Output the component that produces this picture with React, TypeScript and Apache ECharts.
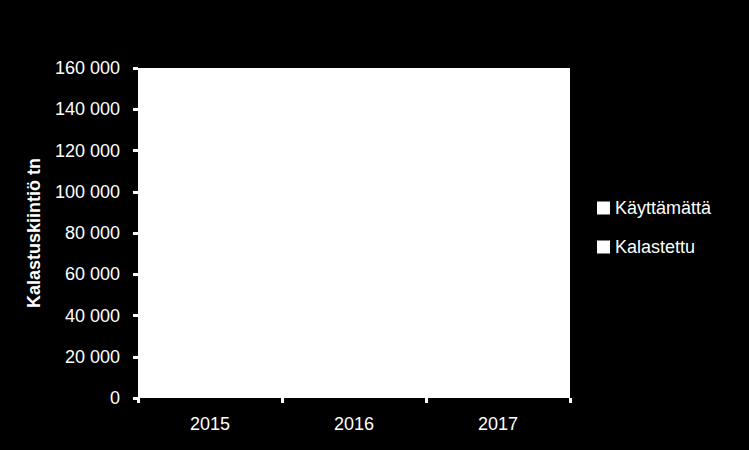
// Pinottu pylväskaavio kalastuskiintiön käytöstä vuosittain (kalastettu / käyttämättä).
// Pylväät ovat valkoisia valkoisella piirtoalueella, kuten alkuperäisessä kuvassa.
import { useEffect, useRef } from 'react'
import * as echarts from 'echarts'

const VUODET = ['2015', '2016', '2017']
const KALASTETTU = [128000, 124000, 118000]
const KAYTTAMATTA = [12000, 16000, 22000]
const Y_MAX = 160000
const Y_VALI = 20000

const FONTTI = '"Liberation Sans", Arial, sans-serif'

// välilyönti tuhaterottimena, kuten suomalaisessa Excelissä
const muotoile = (v: number) => String(v).replace(/\B(?=(\d{3})+(?!\d))/g, ' ')

export default function App() {
  const ref = useRef<HTMLDivElement>(null)

  useEffect(() => {
    document.body.style.margin = '0'
    document.body.style.background = '#000'
    if (!ref.current) return
    const kaavio = echarts.init(ref.current, undefined, { renderer: 'svg' })

    kaavio.setOption({
      animation: false,
      backgroundColor: '#000000',
      textStyle: { fontFamily: FONTTI },
      grid: {
        left: 138,
        right: 179,
        top: 68,
        bottom: 52,
        show: true,
        backgroundColor: '#ffffff',
        borderWidth: 0,
      },
      legend: {
        orient: 'vertical',
        left: 592,
        top: 193,
        itemWidth: 13,
        itemHeight: 13,
        itemGap: 19,
        icon: 'rect',
        data: ['Käyttämättä', 'Kalastettu'],
        textStyle: { color: '#ffffff', fontSize: 18, lineHeight: 20, fontFamily: FONTTI },
      },
      xAxis: {
        type: 'category',
        data: VUODET,
        axisLine: { show: false },
        axisTick: { show: true, length: 5, lineStyle: { color: '#ffffff', width: 3 } },
        axisLabel: { color: '#ffffff', fontSize: 18, margin: 17, fontFamily: FONTTI },
      },
      yAxis: {
        type: 'value',
        min: 0,
        max: Y_MAX,
        interval: Y_VALI,
        name: 'Kalastuskiintiö tn',
        nameLocation: 'middle',
        nameGap: 95,
        nameRotate: 90,
        nameTextStyle: { color: '#ffffff', fontSize: 18, fontWeight: 'bold', fontFamily: FONTTI },
        axisLine: { show: false },
        axisTick: { show: true, length: 5, lineStyle: { color: '#ffffff', width: 3 } },
        splitLine: { show: false },
        axisLabel: {
          color: '#ffffff',
          fontSize: 18,
          margin: 18,
          fontFamily: FONTTI,
          formatter: (v: number) => muotoile(v),
        },
      },
      series: [
        {
          name: 'Kalastettu',
          type: 'bar',
          stack: 'kiintio',
          barWidth: '55%',
          itemStyle: { color: '#ffffff' },
          data: KALASTETTU,
        },
        {
          name: 'Käyttämättä',
          type: 'bar',
          stack: 'kiintio',
          barWidth: '55%',
          itemStyle: { color: '#ffffff' },
          data: KAYTTAMATTA,
        },
      ],
    })

    return () => kaavio.dispose()
  }, [])

  return <div ref={ref} style={{ width: 749, height: 450 }} />
}
